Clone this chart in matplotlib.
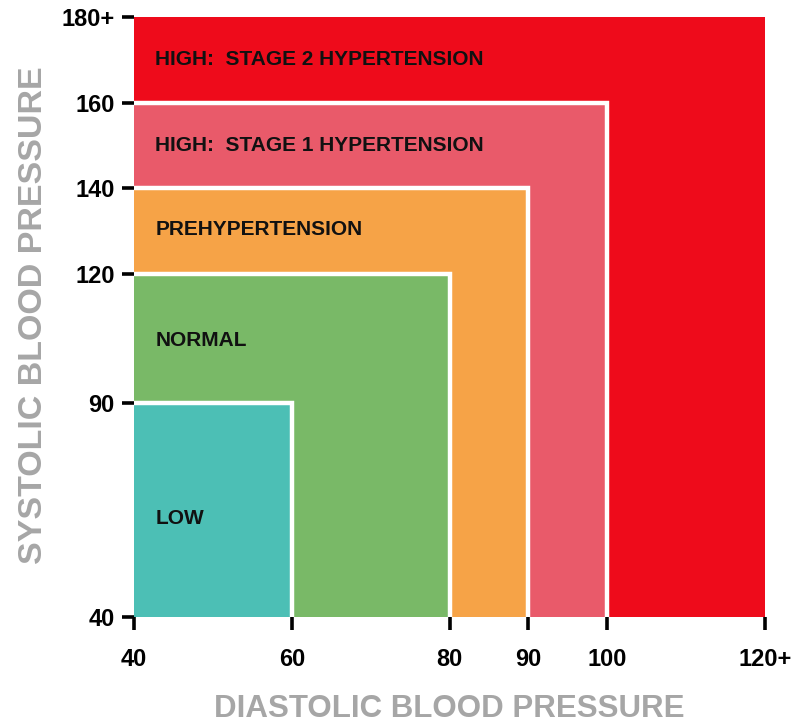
import matplotlib
matplotlib.use("Agg")
import matplotlib.pyplot as plt
from matplotlib.patches import Rectangle

plt.rcParams['font.family'] = ['Liberation Sans', 'DejaVu Sans']

# Data
categories = ["LOW", "NORMAL", "PREHYPERTENSION", "HIGH:  STAGE 1 HYPERTENSION", "HIGH:  STAGE 2 HYPERTENSION"]
diastolic_upper = [60, 80, 90, 100, 120]
systolic_upper = [90, 120, 140, 160, 180]
label_y = [63, 104.5, 130.5, 150, 170]
colors = ["#4CBFB5", "#79B967", "#F6A347", "#E95A6A", "#EE0B1B"]
x_ticks = [40, 60, 80, 90, 100, 120]
x_ticklabels = ["40", "60", "80", "90", "100", "120+"]
y_ticks = [40, 90, 120, 140, 160, 180]
y_ticklabels = ["40", "90", "120", "140", "160", "180+"]
x_min, y_min = 40, 40

W, H = 812, 725
fig = plt.figure(figsize=(W/100, H/100), dpi=100)
ax = fig.add_axes([134/W, 1-617/H, (765-134)/W, (617-17)/H])
ax.set_xlim(x_min, 120)
ax.set_ylim(y_min, 180)

# draw from largest to smallest
for i in reversed(range(len(categories))):
    xu, yu = diastolic_upper[i], systolic_upper[i]
    ax.add_patch(Rectangle((x_min, y_min), xu - x_min, yu - y_min,
                           facecolor=colors[i], edgecolor='none', zorder=1))
    if i < len(categories) - 1:
        ax.plot([x_min, xu, xu], [yu, yu, y_min], color='white', lw=3.2,
                solid_joinstyle='miter', solid_capstyle='butt', zorder=2, clip_on=True)
    ax.text(42.7, label_y[i], categories[i], fontsize=15, fontweight='bold',
            color='#111111', va='center', ha='left', zorder=3)

for s in ax.spines.values():
    s.set_visible(False)

ax.set_xticks(x_ticks)
ax.set_xticklabels(x_ticklabels)
ax.set_yticks(y_ticks)
ax.set_yticklabels(y_ticklabels)
ax.tick_params(axis='both', direction='out', length=9, width=2.6, color='black',
               labelsize=17, labelcolor='black')
ax.tick_params(axis='x', pad=13)
ax.tick_params(axis='y', pad=5)
for lab in ax.get_xticklabels() + ax.get_yticklabels():
    lab.set_fontweight('bold')

fig.text(449/W, 1-717/H, "DIASTOLIC BLOOD PRESSURE", fontsize=22.5,
         fontweight='bold', color='#A6A6A6', ha='center', va='baseline')
fig.text(42/W, 1-315/H, "SYSTOLIC BLOOD PRESSURE", fontsize=24.5,
         fontweight='bold', color='#A6A6A6', ha='center', va='baseline',
         rotation=90, rotation_mode='anchor')

fig.savefig("out.png", dpi=100)
